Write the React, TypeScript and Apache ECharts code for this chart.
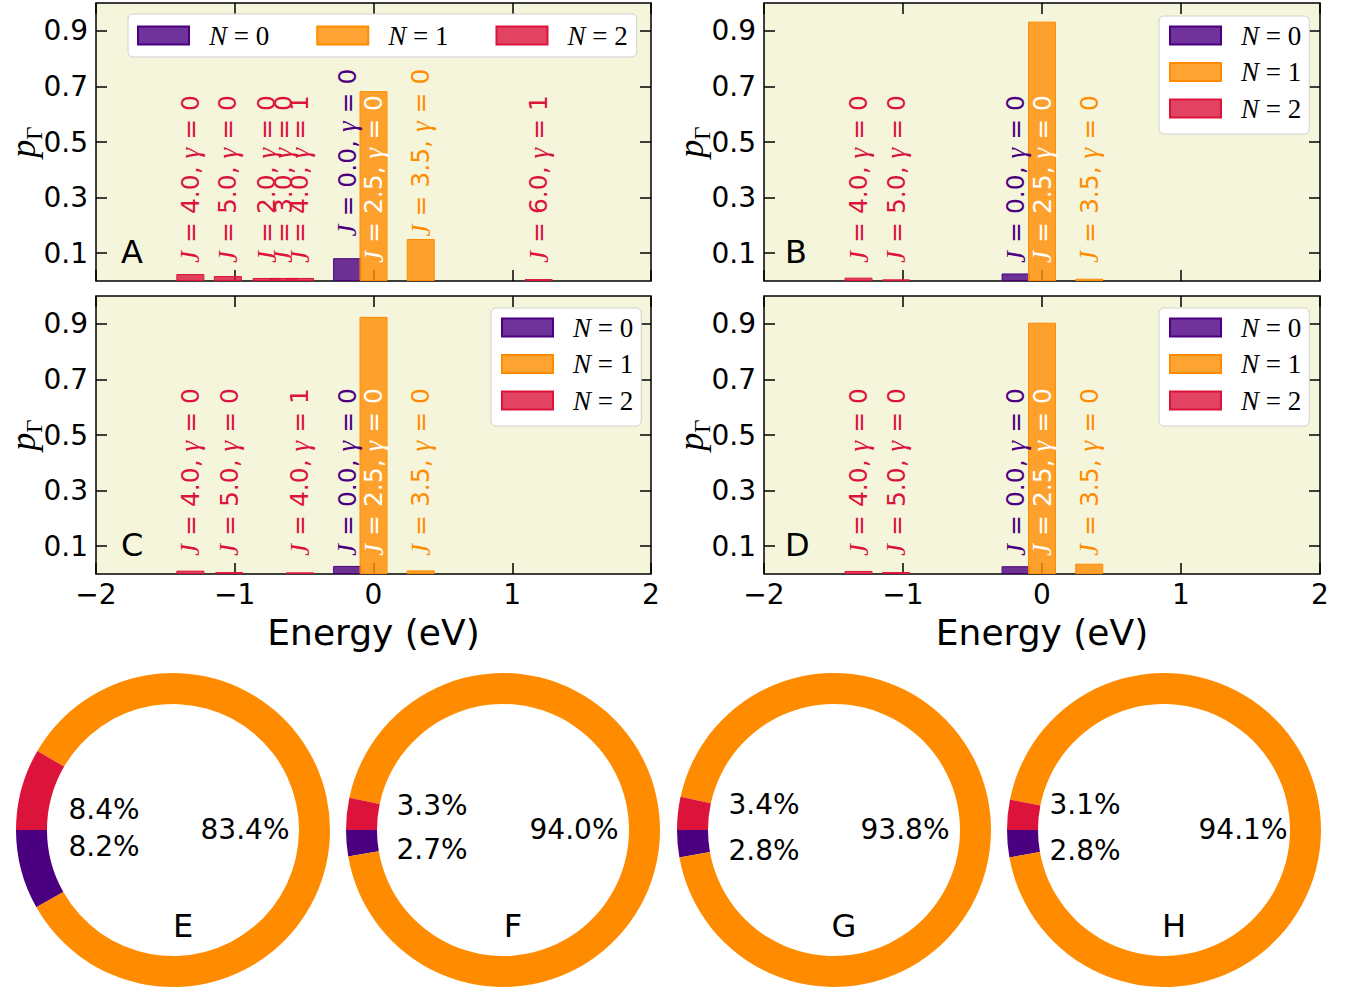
import React, { useEffect, useRef } from 'react';
import * as echarts from 'echarts';

// ---------- data ----------
// Panel A
const aEnergy = [-1.32, -1.05, -0.77, -0.65, -0.53, -0.19, 0.0, 0.34, 1.19];
const aN = [2, 2, 2, 2, 2, 0, 1, 1, 2];
const aProb = [0.025, 0.018, 0.011, 0.011, 0.011, 0.082, 0.683, 0.151, 0.007];
const aJ = [4.0, 5.0, 2.0, 3.0, 4.0, 0.0, 2.5, 3.5, 6.0];
const aGamma = [0, 0, 0, 0, 1, 0, 0, 0, 1];
const aLabelBase = [0.065, 0.065, 0.065, 0.065, 0.065, 0.16, 0.065, 0.16, 0.065];
// Panel B
const bEnergy = [-1.32, -1.05, -0.19, 0.0, 0.34];
const bN = [2, 2, 0, 1, 1];
const bProb = [0.012, 0.006, 0.027, 0.933, 0.008];
const bJ = [4.0, 5.0, 0.0, 2.5, 3.5];
const bGamma = [0, 0, 0, 0, 0];
const bLabelBase = [0.065, 0.065, 0.065, 0.065, 0.065];
// Panel C
const cEnergy = [-1.32, -1.04, -0.53, -0.19, 0.0, 0.34];
const cN = [2, 2, 2, 0, 1, 1];
const cProb = [0.012, 0.007, 0.006, 0.029, 0.925, 0.013];
const cJ = [4.0, 5.0, 4.0, 0.0, 2.5, 3.5];
const cGamma = [0, 0, 1, 0, 0, 0];
const cLabelBase = [0.065, 0.065, 0.065, 0.065, 0.065, 0.065];
// Panel D
const dEnergy = [-1.32, -1.05, -0.19, 0.0, 0.34];
const dN = [2, 2, 0, 1, 1];
const dProb = [0.011, 0.007, 0.028, 0.904, 0.037];
const dJ = [4.0, 5.0, 0.0, 2.5, 3.5];
const dGamma = [0, 0, 0, 0, 0];
const dLabelBase = [0.065, 0.065, 0.065, 0.065, 0.065];

// Pies (order: N=0, N=1, N=2), percent
const pieE = [8.2, 83.4, 8.4];
const pieF = [2.7, 94.0, 3.3];
const pieG = [2.8, 93.8, 3.4];
const pieH = [2.8, 94.1, 3.1];

const panelLetters = ['A', 'B', 'C', 'D'];
const pieLetters = ['E', 'F', 'G', 'H'];
const legendNames = ['N=0', 'N=1', 'N=2'];
const yTicks = [0.1, 0.3, 0.5, 0.7, 0.9];

// ---------- styles / layout ----------
const COLORS = ['#4B0082', '#FF8C00', '#DC143C'];
const FACES = ['rgba(75,0,130,0.8)', 'rgba(255,140,0,0.8)', 'rgba(220,20,60,0.8)'];
const SANS = 'DejaVu Sans';
const SERIF = 'Liberation Serif';

const panels = [
  { energy: aEnergy, N: aN, prob: aProb, J: aJ, gamma: aGamma, base: aLabelBase },
  { energy: bEnergy, N: bN, prob: bProb, J: bJ, gamma: bGamma, base: bLabelBase },
  { energy: cEnergy, N: cN, prob: cProb, J: cJ, gamma: cGamma, base: cLabelBase },
  { energy: dEnergy, N: dN, prob: dProb, J: dJ, gamma: dGamma, base: dLabelBase },
];
const pies = [pieE, pieF, pieG, pieH];

const GRID_BOXES = [
  [96, 3, 555, 278],
  [764, 3, 556, 278],
  [96, 296, 555, 278],
  [764, 296, 556, 278],
];
const LETTER_POS = [
  [121, 254],
  [785, 254],
  [121, 547],
  [785, 547],
];
const LEGENDS = [
  { left: 128, top: 14, orient: 'horizontal' },
  { left: 1159, top: 16, orient: 'vertical' },
  { left: 491, top: 308, orient: 'vertical' },
  { left: 1159, top: 308, orient: 'vertical' },
];
const PIE_CENTERS = [
  [173, 830],
  [503, 830],
  [834, 830],
  [1164, 830],
];
const PIE_LABEL_OFFSETS = [
  [[-69, 16], [72, -1], [-69, -21]],
  [[-71, 19], [71, -1], [-71, -25]],
  [[-70, 20], [71, -1], [-70, -26]],
  [[-79, 20], [79, -1], [-79, -26]],
];

function buildOption() {
  const grid: any[] = [];
  const xAxis: any[] = [];
  const yAxis: any[] = [];
  const series: any[] = [];
  const legend: any[] = [];
  const graphic: any[] = [];

  panels.forEach((p, i) => {
    const [gl, gt, gw, gh] = GRID_BOXES[i];
    grid.push({
      left: gl, top: gt, width: gw, height: gh,
      show: true, backgroundColor: '#F5F5DC', borderColor: '#000', borderWidth: 1.5,
      outerBoundsMode: 'none', containLabel: false,
    });
    const bottomRow = i >= 2;
    const tick = { show: true, inside: true, length: 11, lineStyle: { color: '#000', width: 1.5 } };
    const line = { show: false, onZero: false };
    xAxis.push({
      type: 'value', gridIndex: i, min: -2, max: 2, interval: 1, position: 'bottom',
      axisLine: line, axisTick: tick, splitLine: { show: false },
      axisLabel: {
        show: bottomRow, color: '#000', fontSize: 28, fontFamily: SANS, margin: 6,
        showMinLabel: true, showMaxLabel: true,
        formatter: (v: number) => (v < 0 ? '\u2212' + Math.abs(v) : String(v)),
      },
      name: bottomRow ? 'Energy (eV)' : '',
      nameLocation: 'middle', nameGap: 40, nameMoveOverlap: false,
      nameTextStyle: { color: '#000', fontSize: 36, fontFamily: SANS },
    });
    xAxis.push({
      type: 'value', gridIndex: i, min: -2, max: 2, interval: 1, position: 'top',
      axisLine: line, axisTick: tick, splitLine: { show: false },
      axisLabel: { show: false },
    });
    yAxis.push({
      type: 'value', gridIndex: i, min: 0, max: 1, position: 'left',
      axisLine: line,
      axisTick: { ...tick, customValues: yTicks },
      splitLine: { show: false },
      axisLabel: {
        color: '#000', fontSize: 28, fontFamily: SANS, margin: 8,
        customValues: yTicks, formatter: (v: number) => v.toFixed(1),
      },
      name: '{p|p}{s|\u0393}', nameLocation: 'middle', nameGap: 50, nameRotate: 90,
      nameMoveOverlap: false,
      nameTextStyle: {
        color: '#000',
        rich: {
          p: { fontFamily: SERIF, fontStyle: 'italic', fontSize: 36, verticalAlign: 'bottom', padding: [0, 0, 5, 0] },
          s: { fontFamily: SERIF, fontSize: 23, verticalAlign: 'bottom' },
        },
      },
    });
    yAxis.push({
      type: 'value', gridIndex: i, min: 0, max: 1, position: 'right',
      axisLine: line,
      axisTick: { ...tick, customValues: yTicks },
      splitLine: { show: false },
      axisLabel: { show: false },
    });

    [0, 1, 2].forEach((n) => {
      const data: number[][] = [];
      p.energy.forEach((e, k) => {
        if (p.N[k] === n) data.push([e, p.prob[k]]);
      });
      series.push({
        type: 'bar', name: legendNames[n], xAxisIndex: 2 * i, yAxisIndex: 2 * i,
        barWidth: 28, barGap: '-100%', silent: true,
        itemStyle: { color: FACES[n], borderColor: COLORS[n], borderWidth: 1 },
        data,
      });
    });

    series.push({
      type: 'scatter', name: 'labels' + i, xAxisIndex: 2 * i, yAxisIndex: 2 * i,
      symbolSize: 1, itemStyle: { color: 'transparent', opacity: 1 }, silent: true, z: 5,
      data: p.energy.map((e, k) => ({
        value: [e, p.base[k]],
        label: { color: p.prob[k] > 0.3 ? '#FFFFFF' : COLORS[p.N[k]] },
      })),
      label: {
        show: true, position: 'inside', rotate: 90, align: 'left', verticalAlign: 'middle',
        fontSize: 25, fontFamily: SANS, opacity: 1,
        formatter: (prm: any) =>
          `{m|J} = ${p.J[prm.dataIndex].toFixed(1)}, {m|\u03b3} = ${p.gamma[prm.dataIndex]}`,
        rich: { m: { fontFamily: SERIF, fontStyle: 'italic', fontSize: 27 } },
      },
    });

    const lg = LEGENDS[i];
    const horiz = lg.orient === 'horizontal';
    legend.push({
      left: lg.left, top: lg.top, orient: lg.orient, data: legendNames, icon: 'rect',
      itemWidth: 51, itemHeight: 18, itemGap: horiz ? 47 : 9.5,
      padding: horiz ? [8, 9, 8, 9] : [6, 8, 12, 10],
      backgroundColor: '#FFFFFF', borderColor: '#D0D0D0', borderWidth: 1, borderRadius: 5,
      selectedMode: false,
      formatter: (name: string) => `{i|N} = ${name.split('=')[1]}`,
      textStyle: {
        color: '#000', fontFamily: SERIF, fontSize: 27, padding: [0, 0, 0, 15],
        rich: { i: { fontFamily: SERIF, fontStyle: 'italic', fontSize: 27 } },
      },
    });

    graphic.push({
      type: 'text', left: LETTER_POS[i][0], top: LETTER_POS[i][1] - 18, z: 10,
      style: { text: panelLetters[i], fontSize: 32, fontFamily: SANS, fill: '#000' },
    });
  });

  pies.forEach((vals, i) => {
    const [cx, cy] = PIE_CENTERS[i];
    series.push({
      type: 'pie', center: [cx, cy], radius: [126, 157], startAngle: 180, clockwise: false,
      silent: true, label: { show: false }, labelLine: { show: false },
      emphasis: { disabled: true },
      itemStyle: { borderWidth: 0 },
      data: vals.map((v, k) => ({ name: pieLetters[i] + k, value: v, itemStyle: { color: COLORS[k] } })),
    });
    vals.forEach((v, k) => {
      const [dx, dy] = PIE_LABEL_OFFSETS[i][k];
      graphic.push({
        type: 'text', x: cx + dx, y: cy + dy, z: 10,
        style: {
          text: `${v.toFixed(1)}%`, fontSize: 28, fontFamily: SANS, fill: '#000',
          align: 'center', verticalAlign: 'middle',
        },
      });
    });
    graphic.push({
      type: 'text', x: cx + 10, y: cy + 96, z: 10,
      style: {
        text: pieLetters[i], fontSize: 32, fontFamily: SANS, fill: '#000',
        align: 'center', verticalAlign: 'middle',
      },
    });
  });

  return {
    animation: false,
    backgroundColor: '#FFFFFF',
    textStyle: { fontFamily: SANS },
    grid, xAxis, yAxis, series, legend, graphic,
  };
}

export default function App() {
  const ref = useRef<HTMLDivElement>(null);
  useEffect(() => {
    document.body.style.margin = '0';
    const chart = echarts.init(ref.current!, undefined, { renderer: 'svg' });
    chart.setOption(buildOption() as any);
    return () => chart.dispose();
  }, []);
  return <div ref={ref} style={{ width: 1364, height: 994 }} />;
}
